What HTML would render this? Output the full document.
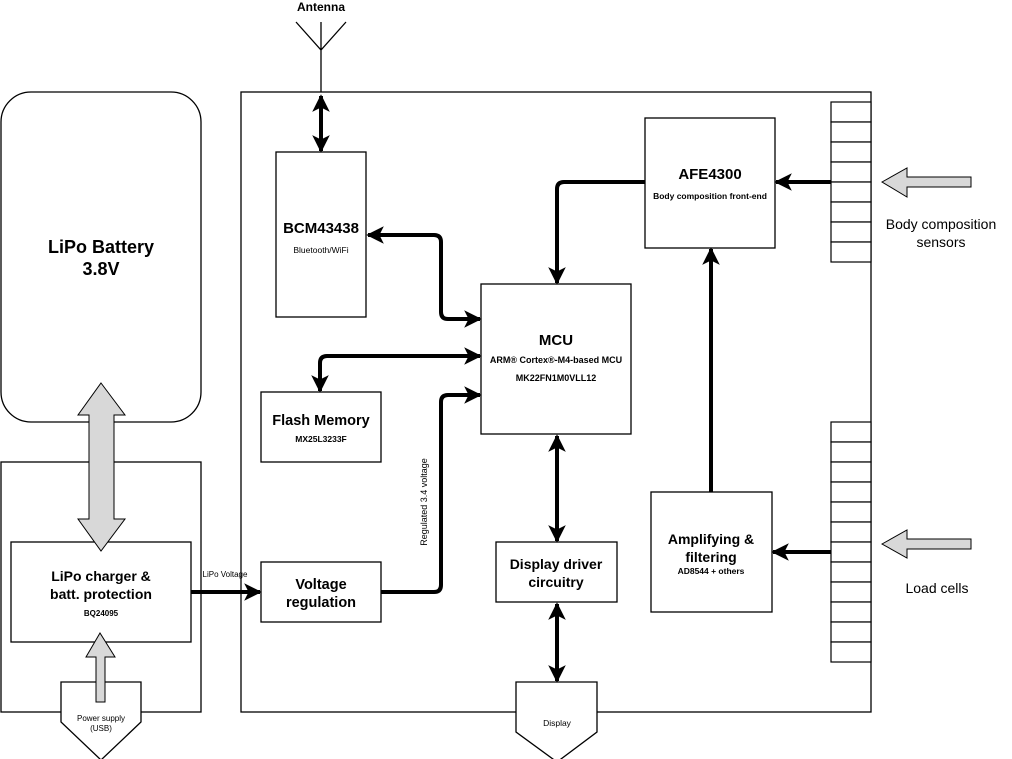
<!DOCTYPE html>
<html><head><meta charset="utf-8"><style>
html,body{margin:0;padding:0;background:#fff;}
svg{display:block;font-family:"Liberation Sans",Arial,sans-serif;}
</style></head><body>
<svg width="1012" height="759" viewBox="0 0 1012 759" xmlns="http://www.w3.org/2000/svg">
<defs>
<marker id="ah" viewBox="0 0 10 10" refX="9" refY="5" markerWidth="4.4" markerHeight="4.8" orient="auto-start-reverse" markerUnits="strokeWidth">
<path d="M0,0 L10,5 L0,10 L2.5,5 Z" fill="#000"/></marker>
</defs>
<g fill="none" stroke="#000" stroke-width="1.3">
<path d="M296,22 L321,50 L346,22 M321,22 L321,92"/>
<rect x="241" y="92" width="630" height="620"/>
<rect x="1" y="92" width="200" height="330" rx="30"/>
<rect x="1" y="462" width="200" height="250"/>
<rect x="11" y="542" width="180" height="100" fill="#fff"/>
<rect x="276" y="152" width="90" height="165"/>
<rect x="261" y="392" width="120" height="70"/>
<rect x="261" y="562" width="120" height="60"/>
<rect x="481" y="284" width="150" height="150"/>
<rect x="645" y="118" width="130" height="130"/>
<rect x="651" y="492" width="121" height="120"/>
<rect x="496" y="542" width="121" height="60"/>
<path d="M61,682 L141,682 L141,722 L101,760 L61,722 Z" fill="#fff"/>
<path d="M516,682 L597,682 L597,732 L557,762 L516,732 Z" fill="#fff"/>
</g>
<g fill="#fff" stroke="#000" stroke-width="1.2">
<rect x="831" y="102" width="40" height="20"/><rect x="831" y="122" width="40" height="20"/>
<rect x="831" y="142" width="40" height="20"/><rect x="831" y="162" width="40" height="20"/>
<rect x="831" y="182" width="40" height="20"/><rect x="831" y="202" width="40" height="20"/>
<rect x="831" y="222" width="40" height="20"/><rect x="831" y="242" width="40" height="20"/>
<rect x="831" y="422" width="40" height="20"/><rect x="831" y="442" width="40" height="20"/>
<rect x="831" y="462" width="40" height="20"/><rect x="831" y="482" width="40" height="20"/>
<rect x="831" y="502" width="40" height="20"/><rect x="831" y="522" width="40" height="20"/>
<rect x="831" y="542" width="40" height="20"/><rect x="831" y="562" width="40" height="20"/>
<rect x="831" y="582" width="40" height="20"/><rect x="831" y="602" width="40" height="20"/>
<rect x="831" y="622" width="40" height="20"/><rect x="831" y="642" width="40" height="20"/>
</g>
<g fill="#d8d8d8" stroke="#000" stroke-width="1">
<path d="M101,383 L125,415 L114,415 L114,519 L125,519 L101,551 L78,519 L89,519 L89,415 L78,415 Z"/>
<path d="M100,633 L115,657 L105,657 L105,702 L96,702 L96,657 L86,657 Z"/>
<path d="M882,182 L907,168 L907,177 L971,177 L971,187 L907,187 L907,197 Z"/>
<path d="M882,544 L907,530 L907,539 L971,539 L971,549 L907,549 L907,558 Z"/>
</g>
<g fill="none" stroke="#000" stroke-width="4" stroke-linejoin="round">
<path d="M321,96 L321,151" marker-start="url(#ah)" marker-end="url(#ah)"/>
<path d="M368,235 L434,235 Q441,235 441,242 L441,312 Q441,319 448,319 L480,319" marker-start="url(#ah)" marker-end="url(#ah)"/>
<path d="M480,356 L327,356 Q320,356 320,363 L320,391" marker-start="url(#ah)" marker-end="url(#ah)"/>
<path d="M381,592 L434,592 Q441,592 441,585 L441,402 Q441,395 448,395 L480,395" marker-end="url(#ah)"/>
<path d="M191,592 L260,592" marker-end="url(#ah)"/>
<path d="M645,182 L564,182 Q557,182 557,189 L557,283" marker-end="url(#ah)"/>
<path d="M831,182 L776,182" marker-end="url(#ah)"/>
<path d="M831,552 L773,552" marker-end="url(#ah)"/>
<path d="M711,492 L711,249" marker-end="url(#ah)"/>
<path d="M557,436 L557,541" marker-start="url(#ah)" marker-end="url(#ah)"/>
<path d="M557,604 L557,681" marker-start="url(#ah)" marker-end="url(#ah)"/>
</g>
<g fill="#000" text-anchor="middle">
<text x="321" y="11" font-size="12" font-weight="bold">Antenna</text>
<text x="101" y="253" font-size="18" font-weight="bold">LiPo Battery</text>
<text x="101" y="275" font-size="18" font-weight="bold">3.8V</text>
<text x="101" y="581" font-size="14" font-weight="bold">LiPo charger &amp;</text>
<text x="101" y="599" font-size="14" font-weight="bold">batt. protection</text>
<text x="101" y="616" font-size="8" font-weight="bold">BQ24095</text>
<text x="101" y="721" font-size="8">Power supply</text>
<text x="101" y="731" font-size="8">(USB)</text>
<text x="225" y="577" font-size="8">LiPo Voltage</text>
<text x="321" y="233" font-size="15" font-weight="bold">BCM43438</text>
<text x="321" y="253" font-size="8.5">Bluetooth/WiFi</text>
<text x="321" y="425" font-size="14.5" font-weight="bold">Flash Memory</text>
<text x="321" y="442" font-size="8.5" font-weight="bold">MX25L3233F</text>
<text x="321" y="589" font-size="14.5" font-weight="bold">Voltage</text>
<text x="321" y="607" font-size="14.5" font-weight="bold">regulation</text>
<text x="427" y="502" font-size="9" transform="rotate(-90 427 502)">Regulated 3.4 voltage</text>
<text x="556" y="345" font-size="15" font-weight="bold">MCU</text>
<text x="556" y="363" font-size="9" font-weight="bold">ARM® Cortex®-M4-based MCU</text>
<text x="556" y="381" font-size="9" font-weight="bold">MK22FN1M0VLL12</text>
<text x="710" y="179" font-size="15" font-weight="bold">AFE4300</text>
<text x="710" y="199" font-size="8.5" font-weight="bold">Body composition front-end</text>
<text x="711" y="544" font-size="14" font-weight="bold">Amplifying &amp;</text>
<text x="711" y="562" font-size="14" font-weight="bold">filtering</text>
<text x="711" y="574" font-size="8.5" font-weight="bold">AD8544 + others</text>
<text x="556" y="569" font-size="14" font-weight="bold">Display driver</text>
<text x="556" y="587" font-size="14" font-weight="bold">circuitry</text>
<text x="557" y="726" font-size="8.5">Display</text>
<text x="941" y="229" font-size="14">Body composition</text>
<text x="941" y="247" font-size="14">sensors</text>
<text x="937" y="593" font-size="14">Load cells</text>
</g>
</svg>
</body></html>
